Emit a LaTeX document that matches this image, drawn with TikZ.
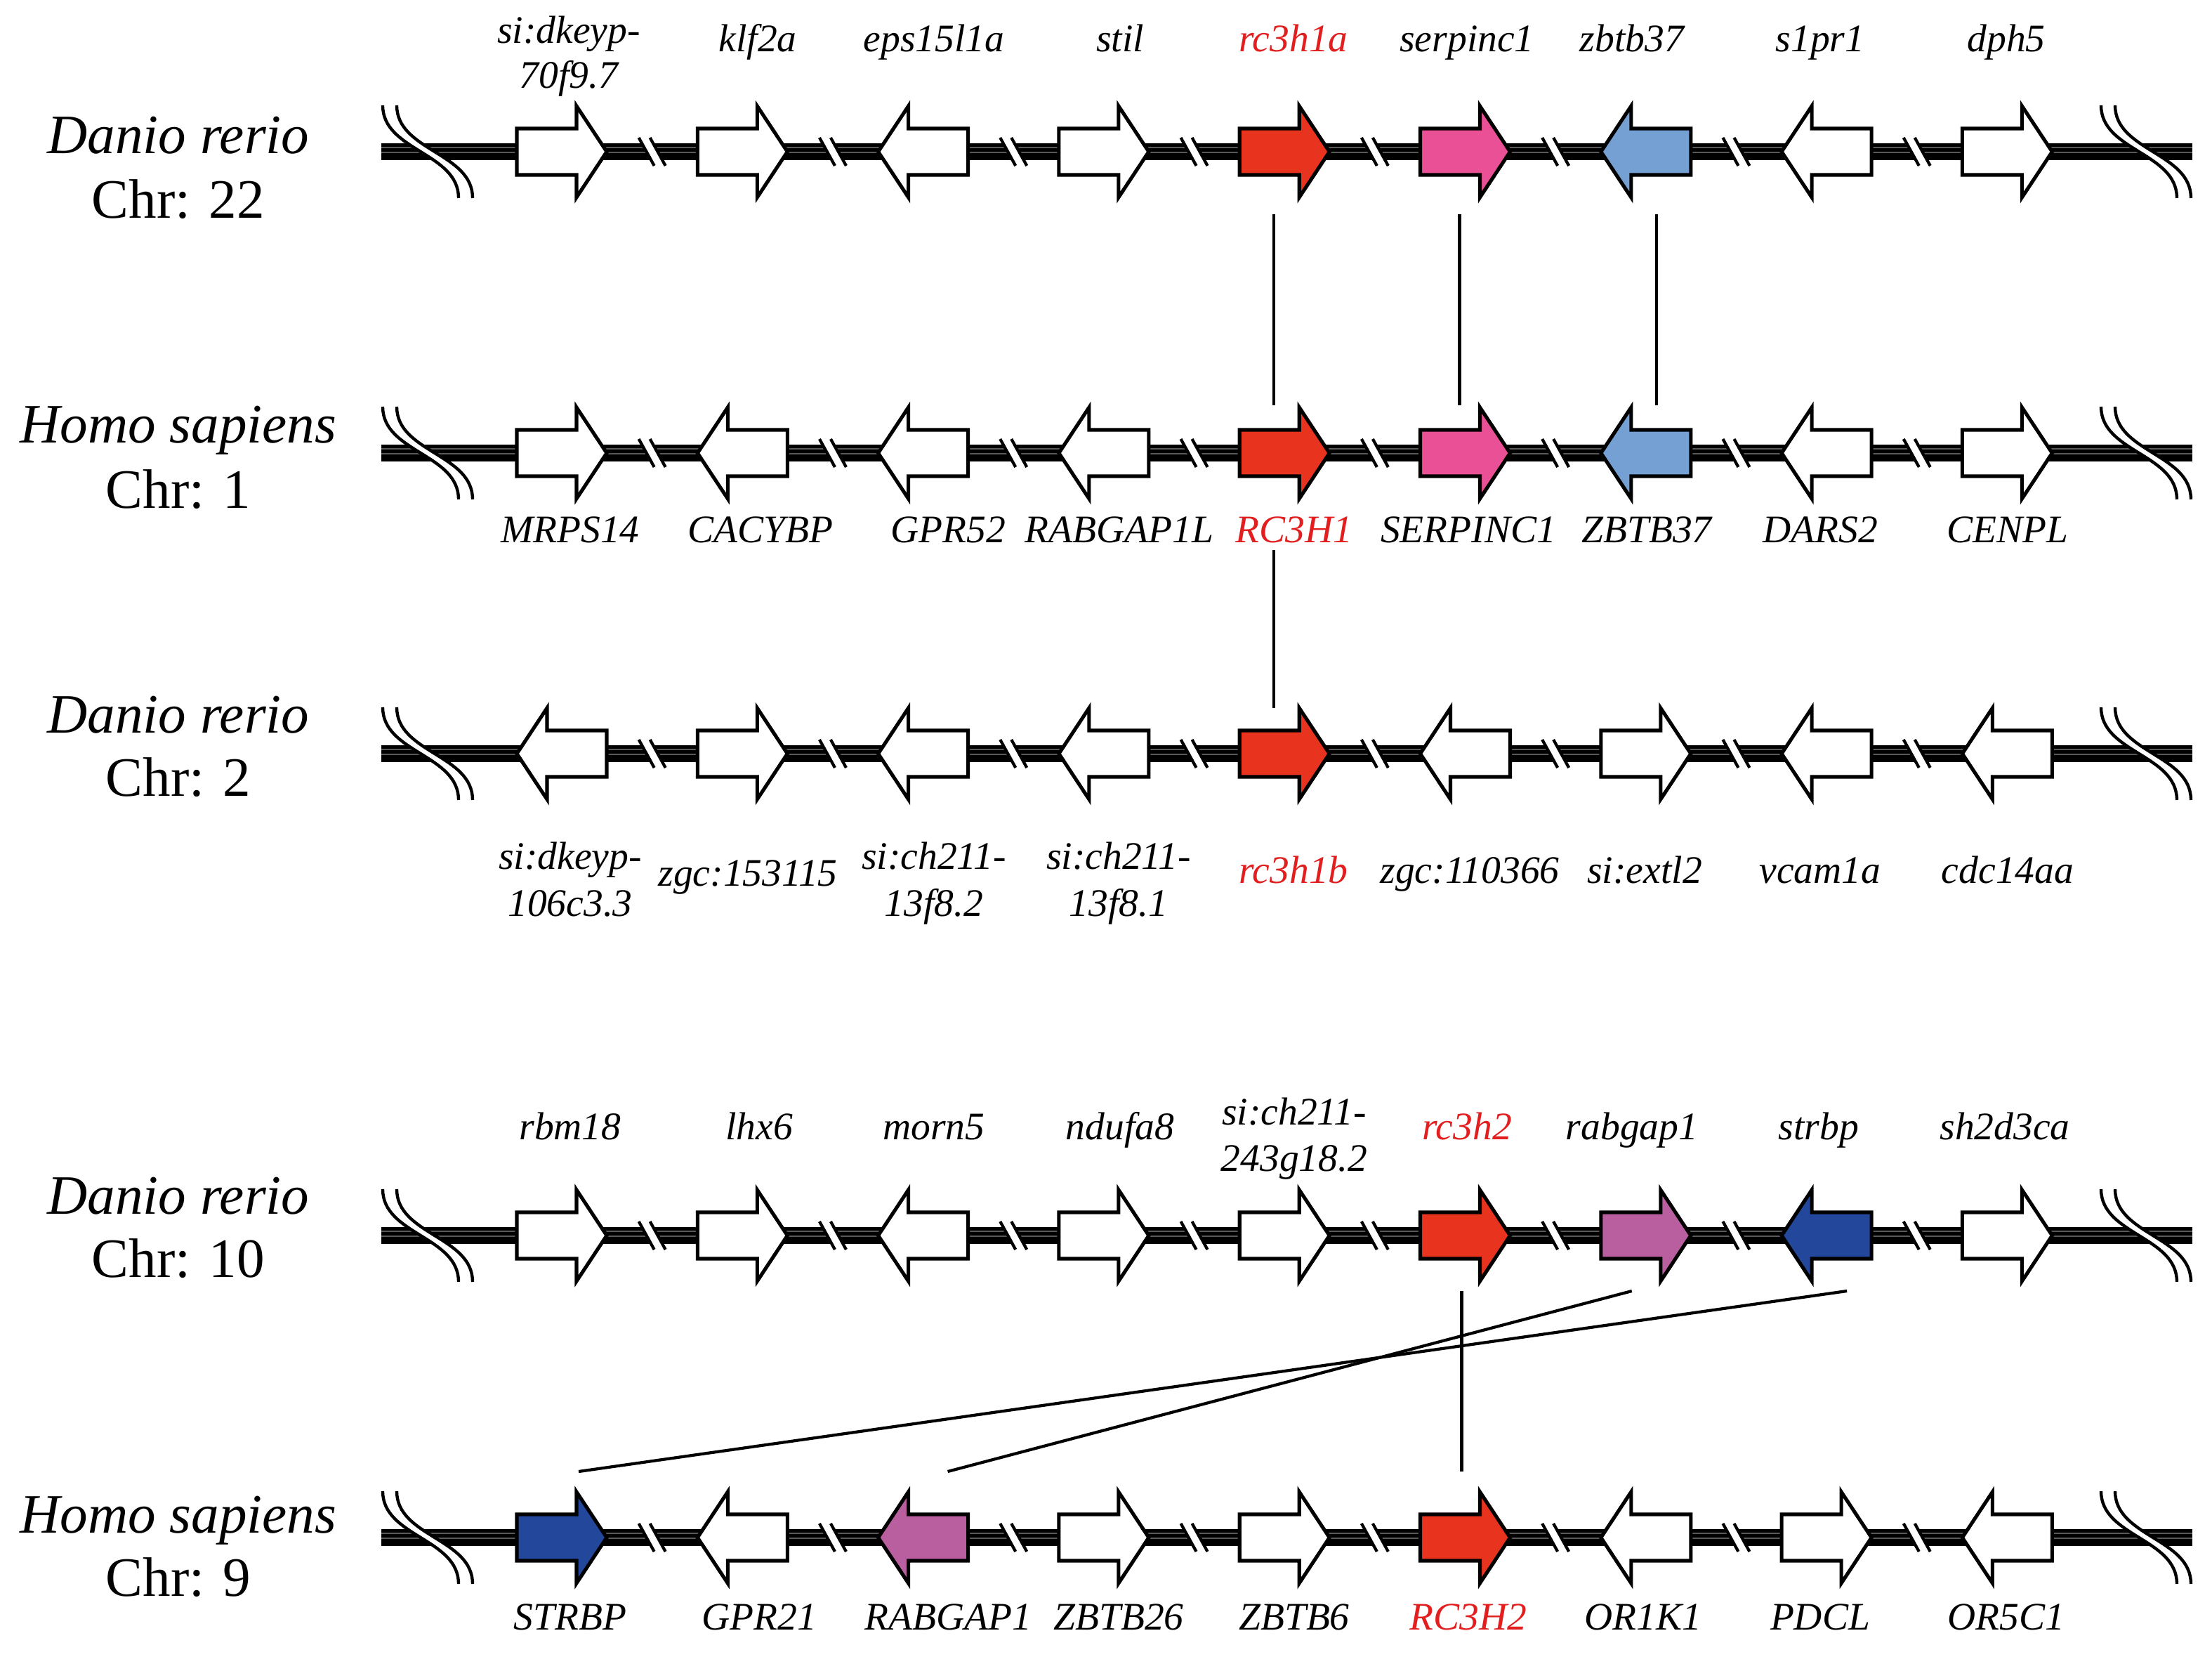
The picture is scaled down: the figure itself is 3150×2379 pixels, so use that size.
\documentclass[tikz,border=0pt]{standalone}
\usepackage{fontspec}
\setmainfont{Liberation Serif}
\definecolor{cRed}{RGB}{232,52,30}
\definecolor{cPink}{RGB}{233,80,150}
\definecolor{cLBlue}{RGB}{117,160,212}
\definecolor{cDBlue}{RGB}{35,72,155}
\definecolor{cPurple}{RGB}{185,95,160}
\definecolor{tRed}{RGB}{226,30,30}
\tikzset{
  gl/.style={font=\fontsize{15.8}{18}\selectfont\itshape, inner sep=0pt, anchor=base},
  sp/.style={font=\fontsize{22.5}{26}\selectfont, inner sep=0pt, anchor=base},
  conn/.style={line width=1.2pt},
  gout/.style={line width=1.45pt, line join=miter},
  brk/.style={line width=1.2pt},
  endl/.style={line width=1.25pt},
  strand/.style={line width=0.45pt, black!65},
}
% arrow: name, x, y, dir, fill
\newcommand{\garrow}[5]{%
  \coordinate (#1) at ({#2},{#3});
  \filldraw[gout, fill=#5] ({#2-64*(#4)},{#3-33}) -- ({#2+21*(#4)},{#3-33}) -- ({#2+21*(#4)},{#3-65})
    -- ({#2+64*(#4)},{#3}) -- ({#2+21*(#4)},{#3+65}) -- ({#2+21*(#4)},{#3+33}) -- ({#2-64*(#4)},{#3+33}) -- cycle;}
% break mark: x, y
\newcommand{\gbreak}[2]{%
  \fill[white] ({#1-19},{#2-20}) -- ({#1-3},{#2-20}) -- ({#1+19},{#2+20}) -- ({#1+3},{#2+20}) -- cycle;
  \draw[brk] ({#1-19},{#2-20}) -- ({#1+3},{#2+20}) ({#1-3},{#2-20}) -- ({#1+19},{#2+20});}
% chromosome end: x0, y
\newcommand{\gend}[2]{%
  \fill[white] ({#1},{#2-66}) .. controls ({#1},{#2-1}) and ({#1+108},{#2+1}) .. ({#1+108},{#2+66})
    -- ({#1+128},{#2+66}) .. controls ({#1+128},{#2+1}) and ({#1+20},{#2-1}) .. ({#1+20},{#2-66}) -- cycle;
  \draw[endl] ({#1},{#2-66}) .. controls ({#1},{#2-1}) and ({#1+108},{#2+1}) .. ({#1+108},{#2+66});
  \draw[endl] ({#1+20},{#2-66}) .. controls ({#1+20},{#2-1}) and ({#1+128},{#2+1}) .. ({#1+128},{#2+66});}
% bar: y
\newcommand{\gbar}[1]{%
  \fill[black] (543,{#1-12}) rectangle (3122,{#1+12});
  \draw[strand] (543,{#1-6}) -- (3122,{#1-6});
  \draw[strand] (543,{#1+1}) -- (3122,{#1+1});
  \foreach \k in {0,...,7} {\gbreak{800+257.3*\k+128.65}{#1}}
  \gend{545}{#1}
  \gend{2992}{#1}}
\begin{document}
\begin{tikzpicture}[x=0.01cm, y=-0.01cm]
\useasboundingbox[fill=white] (0,0) rectangle (3150,2379);

% chromosome bars
\gbar{216}
\gbar{645}
\gbar{1073}
\gbar{1759}
\gbar{2189}

% genes
\foreach \d/\c [count=\i from 0] in {1/white,1/white,-1/white,1/white,1/cRed,1/cPink,-1/cLBlue,-1/white,1/white}
  {\garrow{r1g\i}{800+257.3*\i}{216}{\d}{\c}}
\foreach \d/\c [count=\i from 0] in {1/white,-1/white,-1/white,-1/white,1/cRed,1/cPink,-1/cLBlue,-1/white,1/white}
  {\garrow{r2g\i}{800+257.3*\i}{645}{\d}{\c}}
\foreach \d/\c [count=\i from 0] in {-1/white,1/white,-1/white,-1/white,1/cRed,-1/white,1/white,-1/white,-1/white}
  {\garrow{r3g\i}{800+257.3*\i}{1073}{\d}{\c}}
\foreach \d/\c [count=\i from 0] in {1/white,1/white,-1/white,1/white,1/white,1/cRed,1/cPurple,-1/cDBlue,1/white}
  {\garrow{r4g\i}{800+257.3*\i}{1759}{\d}{\c}}
\foreach \d/\c [count=\i from 0] in {1/cDBlue,-1/white,-1/cPurple,1/white,1/white,1/cRed,-1/white,1/white,-1/white}
  {\garrow{r5g\i}{800+257.3*\i}{2189}{\d}{\c}}

% species labels
\node[sp] (s1a) at (254,219) {\itshape Danio rerio};
\node[sp] (s1b) at (254,311) {Chr: 22};
\node[sp] (s2a) at (254,630) {\itshape Homo sapiens};
\node[sp] (s2b) at (254,724) {Chr: 1};
\node[sp] (s3a) at (254,1043) {\itshape Danio rerio};
\node[sp] (s3b) at (254,1133) {Chr: 2};
\node[sp] (s4a) at (254,1728) {\itshape Danio rerio};
\node[sp] (s4b) at (254,1818) {Chr: 10};
\node[sp] (s5a) at (254,2182) {\itshape Homo sapiens};
\node[sp] (s5b) at (254,2272) {Chr: 9};

% row 1 gene labels
\node[gl] (t1a) at (810,62) {si:dkeyp-};
\node[gl] (t1b) at (810,126) {70f9.7};
\foreach \x/\t [count=\i] in {1079/klf2a,1330/eps15l1a,1595/stil,1842/{\textcolor{tRed}{rc3h1a}},2089/serpinc1,2324/zbtb37,2592/s1pr1,2857/dph5}
  {\node[gl] (t1\i) at (\x,74) {\t};}
% row 2 gene labels
\foreach \x/\t [count=\i] in {812/MRPS14,1083/CACYBP,1350/GPR52,1594/RABGAP1L,1843/{\textcolor{tRed}{RC3H1}},2091/SERPINC1,2345/ZBTB37,2592/DARS2,2859/CENPL}
  {\node[gl] (t2\i) at (\x,772) {\t};}
% row 3 gene labels
\node[gl] (t3a) at (812,1237) {si:dkeyp-};
\node[gl] (t3b) at (812,1304) {106c3.3};
\node[gl] (t3c) at (1065,1261) {zgc:153115};
\node[gl] (t3d) at (1330,1237) {si:ch211-};
\node[gl] (t3e) at (1330,1304) {13f8.2};
\node[gl] (t3f) at (1593,1237) {si:ch211-};
\node[gl] (t3g) at (1593,1304) {13f8.1};
\foreach \x/\t [count=\i] in {1842/{\textcolor{tRed}{rc3h1b}},2093/zgc:110366,2342/si:extl2,2592/vcam1a,2859/cdc14aa}
  {\node[gl] (t3\i) at (\x,1257) {\t};}
% row 4 gene labels
\foreach \x/\t [count=\i] in {812/rbm18,1081/lhx6,1330/morn5,1595/ndufa8,2089/{\textcolor{tRed}{rc3h2}},2324/rabgap1,2590/strbp,2855/sh2d3ca}
  {\node[gl] (t4\i) at (\x,1622) {\t};}
\node[gl] (t4a) at (1843,1601) {si:ch211-};
\node[gl] (t4b) at (1843,1667) {243g18.2};
% row 5 gene labels
\foreach \x/\t [count=\i] in {812/STRBP,1081/GPR21,1350/RABGAP1,1593/ZBTB26,1843/ZBTB6,2091/{\textcolor{tRed}{RC3H2}},2340/OR1K1,2592/PDCL,2857/OR5C1}
  {\node[gl] (t5\i) at (\x,2320) {\t};}

% orthology connectors
\draw[conn] ([shift={(-15,89)}]r1g4) -- ([shift={(-15,-68)}]r2g4);
\draw[conn] ([shift={(-8,89)}]r1g5) -- ([shift={(-8,-68)}]r2g5);
\draw[conn] ([shift={(15,89)}]r1g6) -- ([shift={(15,-68)}]r2g6);
\draw[conn] ([shift={(-15,138)}]r2g4) -- ([shift={(-15,-65)}]r3g4);
\draw[conn] ([shift={(-5,79)}]r4g5) -- ([shift={(-5,-94)}]r5g5);
\draw[conn] ([shift={(-20,79)}]r4g6) -- ([shift={(35,-94)}]r5g2);
\draw[conn] ([shift={(29,79)}]r4g7) -- ([shift={(24,-94)}]r5g0);
\end{tikzpicture}
\end{document}
